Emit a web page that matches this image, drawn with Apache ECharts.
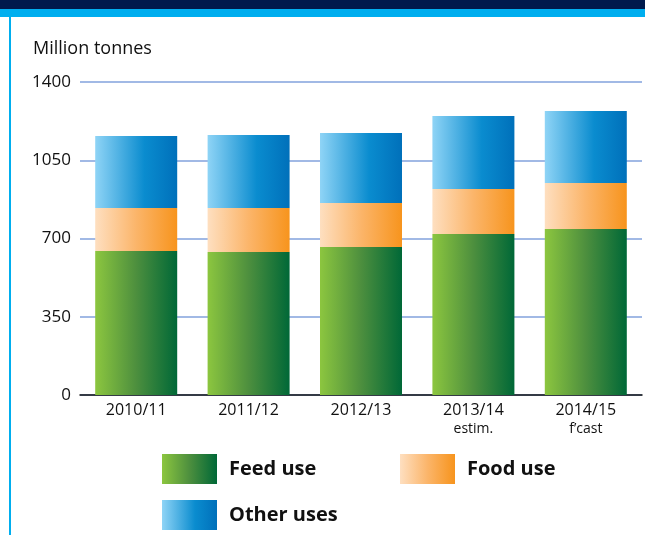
<!DOCTYPE html>
<html>
<head>
<meta charset="utf-8">
<script src="https://cdn.jsdelivr.net/npm/echarts@6/dist/echarts.min.js"></script>
<style>
  html, body { margin: 0; padding: 0; background: #fff; }
  #chart { width: 645px; height: 535px; }
</style>
</head>
<body>
<div id="chart"></div>
<script>
  // 数据
  const categories = ['2010/11', '2011/12', '2012/13', '2013/14', '2014/15'];
  const subLabels = ['', '', '', 'estim.', 'f\u2019cast'];
  const feedUse = [644, 640, 662, 720, 742];
  const foodUse = [192, 196, 197, 201, 206];
  const otherUses = [322, 327, 313, 327, 322];
  const yTicks = [0, 350, 700, 1050, 1400];

  const font = '"Open Sans", "Noto Sans", sans-serif';

  function grad(stops) {
    return new echarts.graphic.LinearGradient(0, 0, 1, 0,
      stops.map(s => ({ offset: s[0], color: s[1] })));
  }
  const feedColor = grad([[0, '#8cc63f'], [0.5, '#4d8f3e'], [1, '#006837']]);
  const foodColor = grad([[0, '#fedfc0'], [0.5, '#fbb56a'], [1, '#f7941d']]);
  const otherColor = grad([[0, '#8fd4f6'], [0.6, '#0a8ccf'], [1, '#0070ba']]);

  const chart = echarts.init(document.getElementById('chart'));

  const legendCommon = {
    itemWidth: 55,
    itemHeight: 30,
    itemGap: 12,
    icon: 'rect',
    selectedMode: false,
    textStyle: { fontFamily: font, fontSize: 20, fontWeight: 'bold', color: '#111', padding: [0, 0, 0, 7] }
  };

  const option = {
    animation: false,
    textStyle: { fontFamily: font },
    graphic: [
      { type: 'rect', shape: { x: 0, y: 0, width: 645, height: 9 }, style: { fill: '#001a4c' } },
      { type: 'rect', shape: { x: 0, y: 9, width: 645, height: 8 }, style: { fill: '#00aeef' } },
      { type: 'rect', shape: { x: 9, y: 17, width: 2, height: 518 }, style: { fill: '#00aeef' } },
      { type: 'text', left: 33, top: 40, style: { text: 'Million tonnes', fontFamily: font, fontSize: 18, fill: '#111' } }
    ],
    legend: [
      Object.assign({ data: ['Feed use'], left: 157, top: 449 }, legendCommon),
      Object.assign({ data: ['Food use'], left: 395, top: 449 }, legendCommon),
      Object.assign({ data: ['Other uses'], left: 157, top: 495 }, legendCommon)
    ],
    grid: { left: 80, right: 3, top: 82, bottom: 140, containLabel: false },
    xAxis: {
      type: 'category',
      data: categories,
      axisLine: { show: true, lineStyle: { color: '#111', width: 1.5 } },
      axisTick: { show: false },
      axisLabel: {
        margin: 6,
        interval: 0,
        lineHeight: 18,
        formatter: (v, i) => subLabels[i] ? v + '\n{s|' + subLabels[i] + '}' : v,
        fontFamily: font,
        fontSize: 16,
        color: '#111',
        verticalAlign: 'top',
        rich: { s: { fontFamily: font, fontSize: 14, color: '#111', lineHeight: 20 } }
      }
    },
    yAxis: {
      type: 'value',
      min: yTicks[0],
      max: yTicks[yTicks.length - 1],
      interval: 350,
      axisLine: { show: false },
      axisTick: { show: false },
      axisLabel: { margin: 9, fontFamily: font, fontSize: 17, color: '#111', formatter: v => String(v) },
      splitLine: { lineStyle: { color: '#82a2dc', width: 1.5 } }
    },
    series: [
      { name: 'Feed use', type: 'bar', stack: 'total', barWidth: 82, data: feedUse, itemStyle: { color: feedColor } },
      { name: 'Food use', type: 'bar', stack: 'total', barWidth: 82, data: foodUse, itemStyle: { color: foodColor } },
      { name: 'Other uses', type: 'bar', stack: 'total', barWidth: 82, data: otherUses, itemStyle: { color: otherColor } }
    ]
  };
  chart.setOption(option);
</script>
</body>
</html>
